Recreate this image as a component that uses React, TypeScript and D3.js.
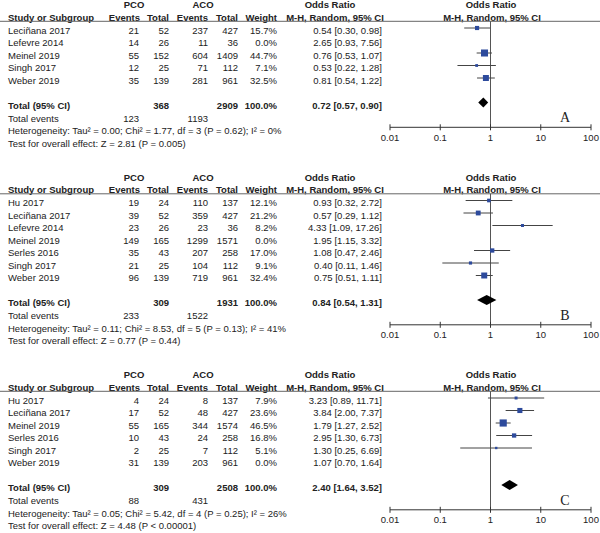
import React from "react";
import * as d3 from "d3";

// ---------- DATA ----------
const panelLetters = ["A", "B", "C"];

const studiesA = ["Leciñana 2017", "Lefevre 2014", "Meinel 2019", "Singh 2017", "Weber 2019"];
const pcoEventsA = [21, 14, 55, 12, 35];
const pcoTotalA = [52, 26, 152, 25, 139];
const acoEventsA = [237, 11, 604, 71, 281];
const acoTotalA = [427, 36, 1409, 112, 961];
const weightA = [15.7, 0.0, 44.7, 7.1, 32.5];
const orA = [0.54, 2.65, 0.76, 0.53, 0.81];
const loA = [0.3, 0.93, 0.53, 0.22, 0.54];
const hiA = [0.98, 7.56, 1.07, 1.28, 1.22];

const studiesB = ["Hu 2017", "Leciñana 2017", "Lefevre 2014", "Meinel 2019", "Serles 2016", "Singh 2017", "Weber 2019"];
const pcoEventsB = [19, 39, 23, 149, 35, 21, 96];
const pcoTotalB = [24, 52, 26, 165, 43, 25, 139];
const acoEventsB = [110, 359, 23, 1299, 207, 104, 719];
const acoTotalB = [137, 427, 36, 1571, 258, 112, 961];
const weightB = [12.1, 21.2, 8.2, 0.0, 17.0, 9.1, 32.4];
const orB = [0.93, 0.57, 4.33, 1.95, 1.08, 0.4, 0.75];
const loB = [0.32, 0.29, 1.09, 1.15, 0.47, 0.11, 0.51];
const hiB = [2.72, 1.12, 17.26, 3.32, 2.46, 1.46, 1.11];

const studiesC = ["Hu 2017", "Leciñana 2017", "Meinel 2019", "Serles 2016", "Singh 2017", "Weber 2019"];
const pcoEventsC = [4, 17, 55, 10, 2, 31];
const pcoTotalC = [24, 52, 165, 43, 25, 139];
const acoEventsC = [8, 48, 344, 24, 7, 203];
const acoTotalC = [137, 427, 1574, 258, 112, 961];
const weightC = [7.9, 23.6, 46.5, 16.8, 5.1, 0.0];
const orC = [3.23, 3.84, 1.79, 2.95, 1.3, 1.07];
const loC = [0.89, 2.0, 1.27, 1.3, 0.25, 0.7];
const hiC = [11.71, 7.37, 2.52, 6.73, 6.69, 1.64];

const totalPco = [368, 309, 309];
const totalAco = [2909, 1931, 2508];
const totalEventsPco = [123, 233, 88];
const totalEventsAco = [1193, 1522, 431];
const totalOr = [0.72, 0.84, 2.4];
const totalLo = [0.57, 0.54, 1.64];
const totalHi = [0.9, 1.31, 3.52];
const heterogeneity = [
  "Heterogeneity: Tau² = 0.00; Chi² = 1.77, df = 3 (P = 0.62); I² = 0%",
  "Heterogeneity: Tau² = 0.11; Chi² = 8.53, df = 5 (P = 0.13); I² = 41%",
  "Heterogeneity: Tau² = 0.05; Chi² = 5.42, df = 4 (P = 0.25); I² = 26%",
];
const overallTest = [
  "Test for overall effect: Z = 2.81 (P = 0.005)",
  "Test for overall effect: Z = 0.77 (P = 0.44)",
  "Test for overall effect: Z = 4.48 (P < 0.00001)",
];
const axisTicks = [0.01, 0.1, 1, 10, 100];
const axisTickLabels = ["0.01", "0.1", "1", "10", "100"];

const panels = [
  { studies: studiesA, pe: pcoEventsA, pt: pcoTotalA, ae: acoEventsA, at: acoTotalA, w: weightA, or: orA, lo: loA, hi: hiA },
  { studies: studiesB, pe: pcoEventsB, pt: pcoTotalB, ae: acoEventsB, at: acoTotalB, w: weightB, or: orB, lo: loB, hi: hiB },
  { studies: studiesC, pe: pcoEventsC, pt: pcoTotalC, ae: acoEventsC, at: acoTotalC, w: weightC, or: orC, lo: loC, hi: hiC },
];

// ---------- LAYOUT ----------
const W = 600;
const H = 533;
const panelTop = [5, 177.5, 375];
const rowStep = 12.5;
const FONT = "'Liberation Sans', Arial, sans-serif";
const FS = 9.5;
const TEXT = "#222";
const BLUE = "#2d4a9c";

const x = d3.scaleLog().domain([0.01, 100]).range([390, 591]);

const fmt2 = d3.format(".2f");
const ci = (o: number, l: number, h: number) => `${fmt2(o)} [${fmt2(l)}, ${fmt2(h)}]`;

const colX = { name: 8, pe: 139, pt: 169, ae: 208, at: 238, w: 277, ci: 382 };

function Panel({ i }: { i: number }) {
  const p = panels[i];
  const top = panelTop[i];
  const headerY = top + 12.5;
  const lineY = headerY + 3.8;
  const firstRow = headerY + 13;
  const n = p.studies.length;
  const totalY = firstRow + (n + 1) * rowStep;
  const evY = totalY + 13;
  const hetY = evY + 12.5;
  const testY = hetY + 12.5;
  const axisY = totalY + 21.8;
  const labelY = axisY + 10;
  const t = (props: any, s: any) => (
    <text fontFamily={FONT} fontSize={FS} fill={TEXT} dy="0.35em" {...props}>
      {s}
    </text>
  );
  return (
    <g>
      {t({ x: 134, y: top, textAnchor: "middle", fontWeight: "bold" }, "PCO")}
      {t({ x: 203, y: top, textAnchor: "middle", fontWeight: "bold" }, "ACO")}
      {t({ x: 330, y: top, textAnchor: "middle", fontWeight: "bold" }, "Odds Ratio")}
      {t({ x: 491, y: top, textAnchor: "middle", fontWeight: "bold" }, "Odds Ratio")}
      {t({ x: colX.name, y: headerY, fontWeight: "bold" }, "Study or Subgroup")}
      {t({ x: 140, y: headerY, textAnchor: "end", fontWeight: "bold" }, "Events")}
      {t({ x: colX.pt, y: headerY, textAnchor: "end", fontWeight: "bold" }, "Total")}
      {t({ x: colX.ae, y: headerY, textAnchor: "end", fontWeight: "bold" }, "Events")}
      {t({ x: colX.at, y: headerY, textAnchor: "end", fontWeight: "bold" }, "Total")}
      {t({ x: colX.w, y: headerY, textAnchor: "end", fontWeight: "bold" }, "Weight")}
      {t({ x: 335, y: headerY, textAnchor: "middle", fontWeight: "bold" }, "M-H, Random, 95% CI")}
      {t({ x: 492, y: headerY, textAnchor: "middle", fontWeight: "bold" }, "M-H, Random, 95% CI")}
      <line x1={0} x2={W} y1={lineY} y2={lineY} stroke="#666" strokeWidth={1} />
      <line x1={x(1)} x2={x(1)} y1={lineY} y2={axisY} stroke="#555" strokeWidth={1} />
      {p.studies.map((s, k) => {
        const y = firstRow + k * rowStep;
        const my = y - 2.5;
        const side = Math.max(2, 1.05 * Math.sqrt(p.w[k]));
        return (
          <g key={k}>
            {t({ x: colX.name, y }, s)}
            {t({ x: colX.pe, y, textAnchor: "end" }, p.pe[k])}
            {t({ x: colX.pt, y, textAnchor: "end" }, p.pt[k])}
            {t({ x: colX.ae, y, textAnchor: "end" }, p.ae[k])}
            {t({ x: colX.at, y, textAnchor: "end" }, p.at[k])}
            {t({ x: colX.w, y, textAnchor: "end" }, `${p.w[k].toFixed(1)}%`)}
            {t({ x: colX.ci, y, textAnchor: "end" }, ci(p.or[k], p.lo[k], p.hi[k]))}
            {p.w[k] > 0 && (
              <g>
                <line x1={x(p.lo[k])} x2={x(p.hi[k])} y1={my} y2={my} stroke="#444" strokeWidth={1} />
                <rect x={x(p.or[k]) - side / 2} y={my - side / 2} width={side} height={side} fill={BLUE} />
              </g>
            )}
          </g>
        );
      })}
      {t({ x: colX.name, y: totalY, fontWeight: "bold" }, "Total (95% CI)")}
      {t({ x: colX.pt, y: totalY, textAnchor: "end", fontWeight: "bold" }, totalPco[i])}
      {t({ x: colX.at, y: totalY, textAnchor: "end", fontWeight: "bold" }, totalAco[i])}
      {t({ x: colX.w, y: totalY, textAnchor: "end", fontWeight: "bold" }, "100.0%")}
      {t({ x: colX.ci, y: totalY, textAnchor: "end", fontWeight: "bold" }, ci(totalOr[i], totalLo[i], totalHi[i]))}
      <path
        d={`M${x(totalLo[i])},${totalY - 3} L${x(totalOr[i])},${totalY - 8} L${x(totalHi[i])},${totalY - 3} L${x(totalOr[i])},${totalY + 2} Z`}
        fill="#000"
      />
      {t({ x: colX.name, y: evY }, "Total events")}
      {t({ x: colX.pe, y: evY, textAnchor: "end" }, totalEventsPco[i])}
      {t({ x: colX.ae, y: evY, textAnchor: "end" }, totalEventsAco[i])}
      {t({ x: colX.name, y: hetY }, heterogeneity[i])}
      {t({ x: colX.name, y: testY }, overallTest[i])}
      <line x1={x(0.01)} x2={x(100)} y1={axisY} y2={axisY} stroke="#333" strokeWidth={1} />
      {axisTicks.map((v, k) => (
        <g key={k}>
          <line x1={x(v)} x2={x(v)} y1={axisY - 3} y2={axisY + 3} stroke="#333" strokeWidth={1} />
          {t({ x: x(v), y: labelY, textAnchor: "middle" }, axisTickLabels[k])}
        </g>
      ))}
      <text x={565} y={totalY + 12} dy="0.35em" textAnchor="middle" fontFamily="'Liberation Serif', 'Times New Roman', serif" fontSize={14} fill={TEXT}>
        {panelLetters[i]}
      </text>
    </g>
  );
}

export default function App() {
  return (
    <svg width={W} height={H} style={{ position: "absolute", left: 0, top: 0, background: "#fff" }}>
      <rect width={W} height={H} fill="#fff" />
      {panels.map((_, i) => (
        <Panel key={i} i={i} />
      ))}
    </svg>
  );
}
